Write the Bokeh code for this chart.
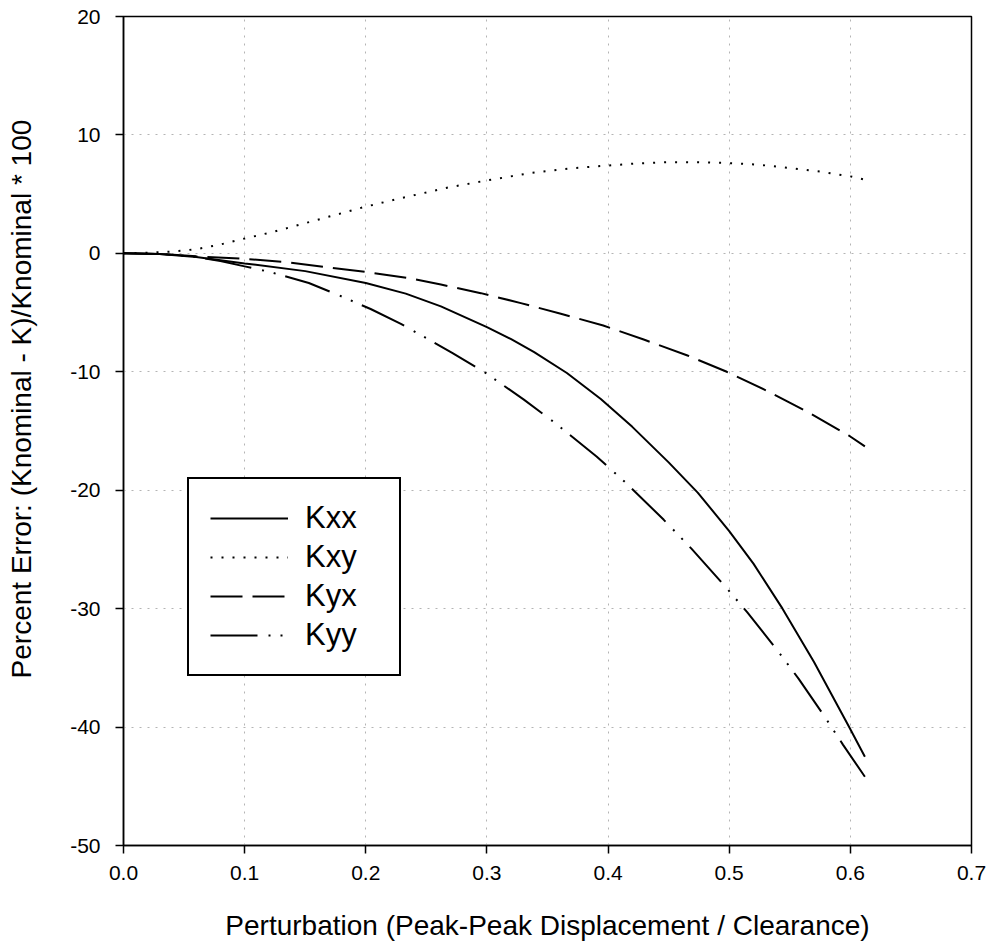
import math
from bokeh.plotting import figure
from bokeh.layouts import row
from bokeh.models import Range1d, FixedTicker, Legend, LegendItem
from bokeh.core.properties import value
from bokeh.embed import file_html
from bokeh.resources import INLINE

# ---- data ----
kxx_x = [0, 0.03, 0.06, 0.1, 0.15, 0.2, 0.233, 0.262, 0.3, 0.32, 0.339, 0.366, 0.394,
         0.42, 0.45, 0.474, 0.5, 0.52, 0.544, 0.57, 0.599, 0.612]
kxx_y = [0, -0.05, -0.3, -0.85, -1.5, -2.5, -3.4, -4.48, -6.23, -7.25, -8.34, -10.1, -12.3,
         -14.65, -17.65, -20.2, -23.45, -26.2, -30.0, -34.5, -40.0, -42.5]

kxy_x = [0, 0.02, 0.04, 0.06, 0.08, 0.1, 0.125, 0.15, 0.175, 0.2, 0.233, 0.267,
         0.3, 0.336, 0.372, 0.4, 0.425, 0.45, 0.475, 0.5, 0.525, 0.55, 0.575, 0.6, 0.612]
kxy_y = [0, 0.05, 0.15, 0.35, 0.75, 1.25, 1.85, 2.55, 3.25, 3.95, 4.75, 5.54,
         6.16, 6.78, 7.2, 7.42, 7.6, 7.7, 7.7, 7.62, 7.48, 7.2, 6.9, 6.5, 6.22]

kyx_x = [0, 0.03, 0.06, 0.1, 0.135, 0.168, 0.2, 0.236, 0.262, 0.295, 0.328, 0.361,
         0.396, 0.43, 0.465, 0.498, 0.531, 0.565, 0.599, 0.612]
kyx_y = [0, -0.05, -0.25, -0.46, -0.74, -1.17, -1.57, -2.1, -2.63, -3.36, -4.2, -5.1,
         -6.09, -7.3, -8.6, -10.0, -11.6, -13.4, -15.4, -16.3]

kyy_x = [0, 0.03, 0.06, 0.08, 0.1, 0.12, 0.153, 0.178, 0.204, 0.229, 0.2713, 0.2975,
         0.3305, 0.3566, 0.3905, 0.415, 0.446, 0.469, 0.4965, 0.5148, 0.5396, 0.5575,
         0.5787, 0.594, 0.612]
kyy_y = [0, -0.05, -0.3, -0.65, -1.1, -1.55, -2.5, -3.55, -4.7, -5.95, -8.4, -10.0,
         -12.35, -14.35, -17.15, -19.4, -22.5, -24.95, -28.1, -30.3, -33.5, -35.95,
         -39.1, -41.5, -44.2]

series_names = ["Kxx", "Kxy", "Kyx", "Kyy"]

x_ticks = [0.0, 0.1, 0.2, 0.3, 0.4, 0.5, 0.6, 0.7]
x_tick_labels = ["0.0", "0.1", "0.2", "0.3", "0.4", "0.5", "0.6", "0.7"]
y_ticks = [-50, -40, -30, -20, -10, 0, 10, 20]
y_tick_labels = ["-50", "-40", "-30", "-20", "-10", "0", "10", "20"]
x_grid = [0.1, 0.2, 0.3, 0.4, 0.5, 0.6]
y_grid = [-40, -30, -20, -10, 0, 10]

x_title = "Perturbation (Peak-Peak Displacement / Clearance)"
y_title = "Percent Error: (Knominal - K)/Knominal * 100"

FONT = "Liberation Sans"
TW = 60  # width of the strip holding the vertical title
H = 947

# ---- strip with the y-axis title (placed a little above the frame centre, like the reference)
tf = figure(width=TW, height=H, x_range=Range1d(0, TW), y_range=Range1d(0, H),
            x_axis_type=None, y_axis_type=None, min_border=0,
            output_backend="svg", toolbar_location=None)
tf.outline_line_color = None
tf.background_fill_color = "white"
tf.border_fill_color = "white"
tf.grid.visible = False
tf.text(x=[21], y=[510], text=[y_title], angle=math.pi / 2,
        text_align="center", text_baseline="alphabetic",
        text_font=value(FONT), text_font_size="28px", text_color="black")

# ---- main plot
p = figure(width=992 - TW, height=H, x_range=Range1d(0, 0.7), y_range=Range1d(-50, 20),
           output_backend="svg", toolbar_location=None,
           min_border_left=123 - TW, min_border_right=21, min_border_top=16,
           min_border_bottom=102)
p.background_fill_color = "white"
p.border_fill_color = "white"
p.outline_line_color = "black"
p.outline_line_width = 1.5

for ax, ticks, labels in ((p.xaxis[0], x_ticks, x_tick_labels),
                          (p.yaxis[0], y_ticks, y_tick_labels)):
    ax.ticker = FixedTicker(ticks=ticks)
    ax.major_label_overrides = {t: l for t, l in zip(ticks, labels)}
    ax.major_label_text_font = FONT
    ax.major_label_text_font_size = "21px"
    ax.major_label_text_color = "black"
    ax.axis_line_color = "black"
    ax.axis_line_width = 1.5
    ax.major_tick_line_color = "black"
    ax.major_tick_line_width = 1.5
    ax.major_tick_out = 8
    ax.major_tick_in = 0
    ax.minor_tick_line_color = None

xa = p.xaxis[0]
xa.axis_label = x_title
xa.axis_label_text_font = FONT
xa.axis_label_text_font_style = "normal"
xa.axis_label_text_font_size = "28px"
xa.axis_label_text_color = "black"
xa.major_label_standoff = 12
xa.axis_label_standoff = 27
p.yaxis[0].major_label_standoff = 15

p.xgrid.ticker = FixedTicker(ticks=x_grid)
p.ygrid.ticker = FixedTicker(ticks=y_grid)
for g in (p.xgrid[0], p.ygrid[0]):
    g.grid_line_color = "#b4b4b4"
    g.grid_line_dash = "2 6"
    g.grid_line_width = 1

r1 = p.line(kxx_x, kxx_y, line_color="black", line_width=2)
r2 = p.line(kxy_x, kxy_y, line_color="black", line_width=2, line_dash="2 9")
r3 = p.line(kyx_x, kyx_y, line_color="black", line_width=2, line_dash="32 10")
r4 = p.line(kyy_x, kyy_y, line_color="black", line_width=2,
            line_dash="47 11 2 10 2 10")

legend = Legend(items=[LegendItem(label=n, renderers=[r]) for n, r in
                       zip(series_names, [r1, r2, r3, r4])],
                location=(64, 169))
legend.label_text_font = FONT
legend.label_text_font_size = "31px"
legend.label_text_color = "black"
legend.glyph_width = 78
legend.glyph_height = 30
legend.label_height = 30
legend.label_width = 73
legend.label_standoff = 17
legend.spacing = 3
legend.padding = 21
legend.margin = 0
legend.border_line_color = "black"
legend.border_line_alpha = 1.0
legend.border_line_width = 2
legend.background_fill_color = "white"
legend.background_fill_alpha = 1.0
p.add_layout(legend, "center")

layout = row(tf, p, spacing=0)
open("out.html", "w").write(file_html(layout, INLINE))
